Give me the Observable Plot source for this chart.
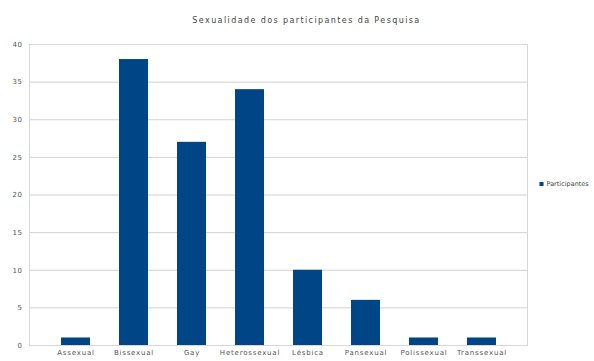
<!DOCTYPE html>
<html><head><meta charset="utf-8">
<script src="https://cdn.jsdelivr.net/npm/d3@7"></script>
<script src="https://cdn.jsdelivr.net/npm/@observablehq/plot@0.6"></script>
<style>
body{margin:0;background:#fff}
g[aria-label="x-axis tick label"] text{letter-spacing:0.8px}
g[aria-label="y-axis tick label"] text{letter-spacing:0.5px}
g.title text{letter-spacing:1.4px}
</style>
</head><body><div id="chart"></div>
<script>
const categories = ["Assexual","Bissexual","Gay","Heterossexual","Lésbica","Pansexual","Polissexual","Transsexual"];
const values = [1,38,27,34,10,6,1,1];
const yTicks = [0,5,10,15,20,25,30,35,40];
const title = "Sexualidade dos participantes da Pesquisa";
const seriesName = "Participantes";

const data = categories.map((c,i)=>({cat:c, v:values[i]}));
const font = "DejaVu Sans, Liberation Sans, sans-serif";
const chart = Plot.plot({
  width: 594, height: 361,
  marginLeft: 29, marginRight: 67, marginTop: 44, marginBottom: 16,
  style: {fontFamily: font, fontSize: "7px", color: "#555", background: "#fff"},
  x: {domain: categories, padding: 0.5, label: null},
  y: {domain: [0,40], label: null},
  marks: [
    Plot.gridY(yTicks, {stroke: "#b3b3b3", strokeOpacity: 0.6}),
    Plot.frame({stroke: "#d8d8d8"}),
    Plot.barY(data, {x: "cat", y: "v", fill: "#004586"}),
    Plot.axisX({tickSize: 0, tickPadding: 5, fontSize: 7}),
    Plot.axisY({ticks: yTicks, tickSize: 0, tickPadding: 7, fontSize: 7}),
    Plot.text([title], {frameAnchor: "top", dx: 28, dy: -27, fontSize: 8, fill: "#444", className: "title"}),
    Plot.dot([seriesName], {frameAnchor: "right", dx: 14, dy: -11, symbol: "square", r: 2.3, fill: "#004586"}),
    Plot.text([seriesName], {frameAnchor: "right", dx: 19, dy: -11, textAnchor: "start", fontSize: 6.5, fill: "#444", className: "legend"})
  ]
});
document.getElementById("chart").append(chart);
</script>
</body></html>
